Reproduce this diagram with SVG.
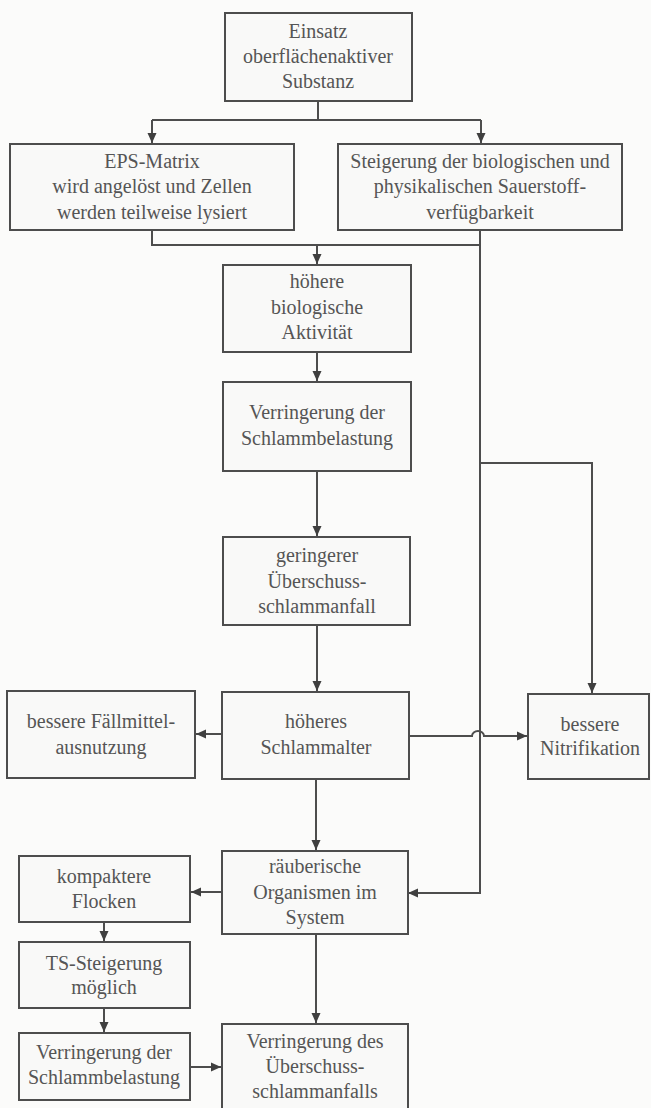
<svg xmlns="http://www.w3.org/2000/svg" width="651" height="1108" viewBox="0 0 651 1108">
<style>
.b{fill:#f9f9f8;stroke:#4d4d4d;stroke-width:2}
.t{font-family:"Liberation Serif","Times New Roman",serif;font-size:20px;fill:#555;text-anchor:middle}
.c{fill:none;stroke:#4d4d4d;stroke-width:2}
</style>
<defs>
<marker id="ah" markerUnits="userSpaceOnUse" markerWidth="11" markerHeight="10" refX="10" refY="5" orient="auto">
<path d="M0,0.5 L10,5 L0,9.5 z" fill="#3f3f3f"/>
</marker>
</defs>
<rect width="651" height="1108" fill="#fbfbfa"/>
<g id="connectors">
<path class="c" d="M318,101 V120 M152,120 H481"/>
<path class="c" d="M152,120 V143" marker-end="url(#ah)"/>
<path class="c" d="M481,120 V143" marker-end="url(#ah)"/>
<path class="c" d="M152,230 V245 H480"/>
<path class="c" d="M317,245 V264" marker-end="url(#ah)"/>
<path class="c" d="M480,230 V893 H408" marker-end="url(#ah)"/>
<path class="c" d="M317,352 V381" marker-end="url(#ah)"/>
<path class="c" d="M317,471 V536" marker-end="url(#ah)"/>
<path class="c" d="M480,463 H592 V693" marker-end="url(#ah)"/>
<path class="c" d="M317,625 V691" marker-end="url(#ah)"/>
<path class="c" d="M222,734 H196" marker-end="url(#ah)"/>
<path class="c" d="M409,736 H472 a6,5 0 0 1 12,0 H527" marker-end="url(#ah)"/>
<path class="c" d="M316,779 V850" marker-end="url(#ah)"/>
<path class="c" d="M222,892 H191" marker-end="url(#ah)"/>
<path class="c" d="M104,922 V941" marker-end="url(#ah)"/>
<path class="c" d="M104,1008 V1032" marker-end="url(#ah)"/>
<path class="c" d="M316,934 V1023" marker-end="url(#ah)"/>
<path class="c" d="M190,1067 H221" marker-end="url(#ah)"/>
</g>
<g id="n_einsatz"><rect class="b" x="225" y="13" width="187" height="88"/>
<text class="t" x="318" y="38">Einsatz</text><text class="t" x="318" y="63">oberflächenaktiver</text><text class="t" x="318" y="88">Substanz</text></g>
<g id="n_eps"><rect class="b" x="10" y="144" width="284" height="86"/>
<text class="t" x="152" y="168">EPS-Matrix</text><text class="t" x="152" y="193">wird angelöst und Zellen</text><text class="t" x="152" y="219">werden teilweise lysiert</text></g>
<g id="n_steig"><rect class="b" x="338" y="144" width="284" height="86"/>
<text class="t" x="480" y="168">Steigerung der biologischen und</text><text class="t" x="480" y="193">physikalischen Sauerstoff-</text><text class="t" x="480" y="219">verfügbarkeit</text></g>
<g id="n_hoehere"><rect class="b" x="223" y="265" width="188" height="87"/>
<text class="t" x="317" y="288">höhere</text><text class="t" x="317" y="314">biologische</text><text class="t" x="317" y="339">Aktivität</text></g>
<g id="n_verr1"><rect class="b" x="223" y="382" width="188" height="89"/>
<text class="t" x="317" y="419">Verringerung der</text><text class="t" x="317" y="445">Schlammbelastung</text></g>
<g id="n_ger"><rect class="b" x="223" y="537" width="187" height="88"/>
<text class="t" x="317" y="562">geringerer</text><text class="t" x="317" y="588">Überschuss-</text><text class="t" x="317" y="613">schlammanfall</text></g>
<g id="n_faell"><rect class="b" x="7" y="691" width="188" height="87"/>
<text class="t" x="101" y="728">bessere Fällmittel-</text><text class="t" x="101" y="754">ausnutzung</text></g>
<g id="n_alter"><rect class="b" x="222" y="692" width="187" height="87"/>
<text class="t" x="316" y="728">höheres</text><text class="t" x="316" y="754">Schlammalter</text></g>
<g id="n_nitri"><rect class="b" x="528" y="694" width="121" height="85"/>
<text class="t" x="590" y="731">bessere</text><text class="t" x="590" y="755">Nitrifikation</text></g>
<g id="n_raeub"><rect class="b" x="222" y="851" width="186" height="83"/>
<text class="t" x="315" y="873">räuberische</text><text class="t" x="315" y="899">Organismen im</text><text class="t" x="315" y="924">System</text></g>
<g id="n_kompakt"><rect class="b" x="19" y="856" width="171" height="66"/>
<text class="t" x="104" y="883">kompaktere</text><text class="t" x="104" y="908">Flocken</text></g>
<g id="n_ts"><rect class="b" x="19" y="942" width="171" height="66"/>
<text class="t" x="104" y="970">TS-Steigerung</text><text class="t" x="104" y="994">möglich</text></g>
<g id="n_verr2"><rect class="b" x="19" y="1033" width="171" height="67"/>
<text class="t" x="104" y="1059">Verringerung der</text><text class="t" x="104" y="1084">Schlammbelastung</text></g>
<g id="n_verr3"><rect class="b" x="222" y="1024" width="186" height="90"/>
<text class="t" x="315" y="1048">Verringerung des</text><text class="t" x="315" y="1073">Überschuss-</text><text class="t" x="315" y="1098">schlammanfalls</text></g>
</svg>
